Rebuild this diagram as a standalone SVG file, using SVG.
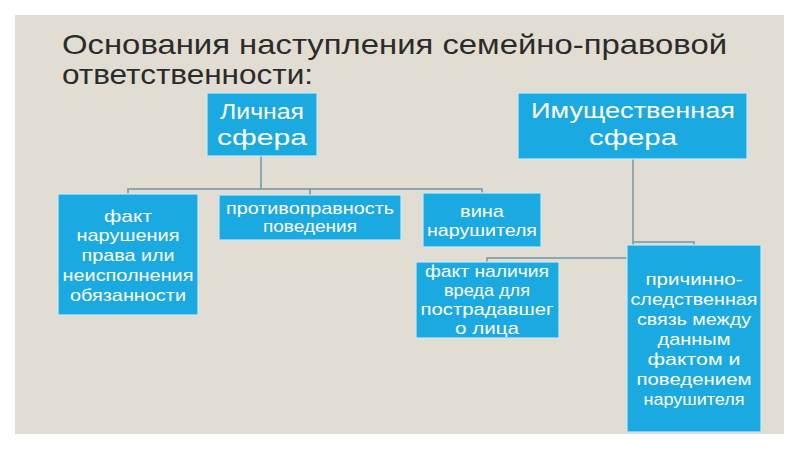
<svg xmlns="http://www.w3.org/2000/svg" width="800" height="450" viewBox="0 0 800 450">
<style>
.box{fill:#1ba9e1;stroke:#c6e9f7;stroke-width:1.2}
.t{font-family:"Liberation Sans","DejaVu Sans",sans-serif;fill:#ffffff;text-anchor:middle}
.s{font-size:17px}
.b{font-size:22px}
.title{font-family:"Liberation Sans","DejaVu Sans",sans-serif;font-size:28px;fill:#2b2b2b}
.c{fill:none;stroke:#6f95a7;stroke-width:1.5}
</style>
<rect x="0" y="0" width="800" height="450" fill="#ffffff"/>
<rect x="15" y="15" width="769" height="419" fill="#e2ddd3"/>
<g id="title">
<text class="title" x="62" y="54" textLength="665" lengthAdjust="spacingAndGlyphs">Основания наступления семейно-правовой</text>
<text class="title" x="62" y="84" textLength="251" lengthAdjust="spacingAndGlyphs">ответственности:</text>
</g>
<g id="connectors">
<path class="c" d="M261 156 V189 M128 194 V189 H482 V193 M310 189 V195"/>
<path class="c" d="M633 159 V258 M633 242 H694 V245 M633 258 H487 V262"/>
</g>
<g id="lichnaya">
<rect class="box" x="207" y="93" width="110" height="63"/>
<text class="t b" x="262" y="119" textLength="84" lengthAdjust="spacingAndGlyphs">Личная</text>
<text class="t b" x="262" y="145" textLength="90" lengthAdjust="spacingAndGlyphs">сфера</text>
</g>
<g id="imush">
<rect class="box" x="518" y="93" width="229" height="66"/>
<text class="t b" x="633" y="118" textLength="204" lengthAdjust="spacingAndGlyphs">Имущественная</text>
<text class="t b" x="633" y="145" textLength="88" lengthAdjust="spacingAndGlyphs">сфера</text>
</g>
<g id="fakt-narush">
<rect class="box" x="58" y="194" width="140" height="121"/>
<text class="t s" x="128" y="222" textLength="48" lengthAdjust="spacingAndGlyphs">факт</text>
<text class="t s" x="128" y="241" textLength="103" lengthAdjust="spacingAndGlyphs">нарушения</text>
<text class="t s" x="128" y="261" textLength="93" lengthAdjust="spacingAndGlyphs">права или</text>
<text class="t s" x="128" y="281" textLength="131" lengthAdjust="spacingAndGlyphs">неисполнения</text>
<text class="t s" x="128" y="301" textLength="116" lengthAdjust="spacingAndGlyphs">обязанности</text>
</g>
<g id="protivopravnost">
<rect class="box" x="219" y="195" width="182" height="45"/>
<text class="t s" x="310" y="214" textLength="168" lengthAdjust="spacingAndGlyphs">противоправность</text>
<text class="t s" x="310" y="232" textLength="94" lengthAdjust="spacingAndGlyphs">поведения</text>
</g>
<g id="vina">
<rect class="box" x="423" y="193" width="118" height="54"/>
<text class="t s" x="482" y="217" textLength="44" lengthAdjust="spacingAndGlyphs">вина</text>
<text class="t s" x="482" y="236" textLength="110" lengthAdjust="spacingAndGlyphs">нарушителя</text>
</g>
<g id="vred">
<rect class="box" x="416" y="262" width="143" height="76"/>
<text class="t s" x="487" y="277" textLength="124" lengthAdjust="spacingAndGlyphs">факт наличия</text>
<text class="t s" x="487" y="296" textLength="86" lengthAdjust="spacingAndGlyphs">вреда для</text>
<text class="t s" x="487" y="315" textLength="133" lengthAdjust="spacingAndGlyphs">пострадавшег</text>
<text class="t s" x="487" y="334" textLength="64" lengthAdjust="spacingAndGlyphs">о лица</text>
</g>
<g id="prichinnaya">
<rect class="box" x="627" y="245" width="134" height="187"/>
<text class="t s" x="694" y="285" textLength="97" lengthAdjust="spacingAndGlyphs">причинно-</text>
<text class="t s" x="694" y="305" textLength="127" lengthAdjust="spacingAndGlyphs">следственная</text>
<text class="t s" x="694" y="325" textLength="114" lengthAdjust="spacingAndGlyphs">связь между</text>
<text class="t s" x="694" y="345" textLength="73" lengthAdjust="spacingAndGlyphs">данным</text>
<text class="t s" x="694" y="365" textLength="93" lengthAdjust="spacingAndGlyphs">фактом и</text>
<text class="t s" x="694" y="385" textLength="115" lengthAdjust="spacingAndGlyphs">поведением</text>
<text class="t s" x="694" y="405" textLength="101" lengthAdjust="spacingAndGlyphs">нарушителя</text>
</g>
</svg>
